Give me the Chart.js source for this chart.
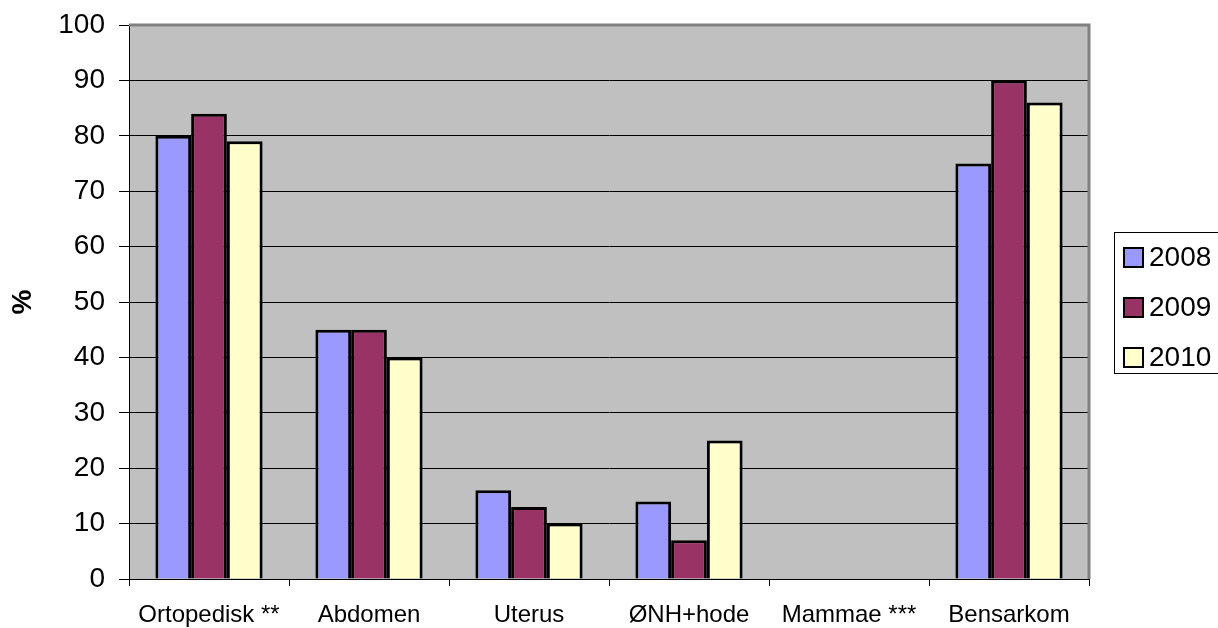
<!DOCTYPE html>
<html>
<head>
<meta charset="utf-8">
<script src="https://cdn.jsdelivr.net/npm/chart.js@4/dist/chart.umd.min.js"></script>
<style>
  html, body { margin: 0; padding: 0; background: #ffffff; }
  #wrap { width: 1218px; height: 628px; position: relative; }
</style>
</head>
<body>
<div id="wrap"><canvas id="chart" width="1218" height="628"></canvas></div>
<script>
// Kategorier og andel (%) per år
const categories = ['Ortopedisk **', 'Abdomen', 'Uterus', 'ØNH+hode', 'Mammae ***', 'Bensarkom'];
const years = ['2008', '2009', '2010'];
const values2008 = [80, 45, 16, 14, null, 75];
const values2009 = [84, 45, 13, 7, null, 90];
const values2010 = [79, 40, 10, 25, null, 86];
const yTicks = [0, 10, 20, 30, 40, 50, 60, 70, 80, 90, 100];
const axisTitle = '%';

const seriesValues = [values2008, values2009, values2010];
const seriesColors = ['#9999FF', '#993366', '#FFFFCC'];
const FONT = '"Liberation Sans", Arial, sans-serif';

// Grå plottflate bak søylene, grå ramme oppe og til høyre
const plotFrame = {
  id: 'plotFrame',
  beforeDraw(chart) {
    const { ctx, chartArea: a } = chart;
    ctx.save();
    ctx.fillStyle = '#C0C0C0';
    ctx.fillRect(a.left, a.top, a.right - a.left, a.bottom - a.top);
    ctx.restore();
  },
  afterDraw(chart) {
    const { ctx, chartArea: a } = chart;
    ctx.save();
    ctx.strokeStyle = '#808080';
    ctx.lineWidth = 3;
    ctx.beginPath();
    ctx.moveTo(a.left, a.top);
    ctx.lineTo(a.right, a.top);
    ctx.lineTo(a.right, a.bottom);
    ctx.stroke();
    ctx.restore();
  }
};

// Tegnforklaring i ramme til høyre for plottet
const boxLegend = {
  id: 'boxLegend',
  afterDraw(chart) {
    const { ctx } = chart;
    const x0 = 1114.5, y0 = 232.5, w = 110, h = 141;
    ctx.save();
    ctx.fillStyle = '#ffffff';
    ctx.fillRect(x0, y0, w, h);
    ctx.strokeStyle = '#000000';
    ctx.lineWidth = 1;
    ctx.strokeRect(x0, y0, w, h);
    ctx.font = '28px ' + FONT;
    ctx.textBaseline = 'middle';
    ctx.textAlign = 'left';
    chart.data.datasets.forEach((ds, i) => {
      const cy = 257.5 + i * 50;
      ctx.fillStyle = ds.backgroundColor;
      ctx.fillRect(1124, cy - 9.5, 19, 19);
      ctx.lineWidth = 2;
      ctx.strokeStyle = '#000000';
      ctx.strokeRect(1124, cy - 9.5, 19, 19);
      ctx.fillStyle = '#000000';
      ctx.fillText(ds.label, 1149, cy + 1);
    });
    ctx.restore();
  }
};

const datasets = years.map((y, i) => ({
  label: y,
  data: seriesValues[i],
  backgroundColor: seriesColors[i],
  borderColor: '#000000',
  borderWidth: 3,
  borderSkipped: 'bottom',
  categoryPercentage: 0.67,
  barPercentage: 1.0
}));

new Chart(document.getElementById('chart'), {
  type: 'bar',
  data: { labels: categories, datasets },
  plugins: [plotFrame, boxLegend],
  options: {
    responsive: false,
    animation: false,
    devicePixelRatio: 1,
    layout: { padding: { top: 25, right: 129, left: 0, bottom: 0 } },
    plugins: {
      legend: { display: false },
      tooltip: { enabled: false }
    },
    scales: {
      x: {
        offset: true,
        grid: {
          offset: true,
          drawOnChartArea: false,
          drawTicks: true,
          tickLength: 7,
          tickColor: '#000000',
          tickWidth: 1
        },
        border: { color: '#000000', width: 1 },
        ticks: {
          color: '#000000',
          font: { family: FONT, size: 24 },
          padding: 15,
          maxRotation: 0,
          autoSkip: false
        },
        afterFit(scale) {
          scale.height = 49;
          scale.paddingLeft = 0;
          scale.paddingRight = 0;
        }
      },
      y: {
        min: 0,
        max: 100,
        afterBuildTicks(scale) { scale.ticks = yTicks.map(v => ({ value: v })); },
        grid: {
          color: ctx => (ctx.tick && ctx.tick.value === 100) ? 'rgba(0,0,0,0)' : '#000000',
          lineWidth: 1,
          tickLength: 10,
          tickColor: '#000000',
          tickWidth: 1
        },
        border: { color: '#000000', width: 1 },
        ticks: {
          color: '#000000',
          font: { family: FONT, size: 28 },
          padding: 14
        },
        title: {
          display: true,
          text: axisTitle,
          color: '#000000',
          font: { family: FONT, size: 28, weight: 'bold' },
          padding: { top: 6, bottom: 0 }
        },
        afterFit(scale) {
          scale.width = 129;
          scale.paddingTop = 0;
          scale.paddingBottom = 0;
        }
      }
    }
  }
});
</script>
</body>
</html>
